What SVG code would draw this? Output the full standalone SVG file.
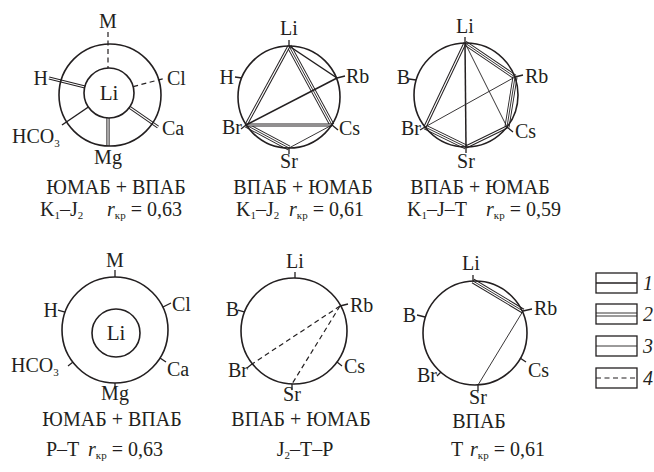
<svg xmlns="http://www.w3.org/2000/svg" xmlns:xlink="http://www.w3.org/1999/xlink" width="654" height="472" viewBox="0 0 654 472">
<style>
.t{font-family:"Liberation Serif","Times New Roman",serif;font-size:20px;fill:#231f20}
.m{text-anchor:middle}
.e{text-anchor:end}
.i{font-style:italic}
.s{font-size:11px}
.c{fill:none;stroke:#231f20;stroke-width:1.6}
.k{stroke:#231f20;stroke-width:1.3;fill:none}
.w1{stroke:#231f20;stroke-width:1.5}
.w0{stroke:#231f20;stroke-width:0.9}
.dA{stroke:#231f20;stroke-width:3.2}
.dB{stroke:#fff;stroke-width:1.2}
.tA{stroke:#231f20;stroke-width:5}
.tB{stroke:#fff;stroke-width:3.2}
.tC{stroke:#231f20;stroke-width:0.9}
.da{stroke:#231f20;stroke-width:1.2;stroke-dasharray:5 3.5}
</style>
<defs>
<line id="a1H" x1="49" y1="78" x2="85" y2="87"/>
<line id="a1Ca" x1="129.5" y1="107.3" x2="158" y2="127"/>
<line id="a1Mg" x1="108" y1="118" x2="108" y2="146"/>
<line id="a2LiBr" x1="289" y1="46" x2="246" y2="125"/>
<line id="a2LiCs" x1="289" y1="46" x2="332" y2="125"/>
<line id="a2BrCs" x1="246" y1="125" x2="332" y2="125"/>
<line id="a2BrSr" x1="246" y1="125" x2="289" y2="148"/>
<line id="a3LiBr" x1="465" y1="43" x2="425" y2="127"/>
<line id="a3LiRb" x1="465" y1="43" x2="515" y2="77"/>
<line id="a3RbCs" x1="515" y1="77" x2="507" y2="127"/>
<line id="a3BrSr" x1="425" y1="127" x2="466" y2="147"/>
<line id="a3SrCs" x1="466" y1="147" x2="507" y2="127"/>
<line id="a6LiRb" x1="473" y1="281" x2="523" y2="311"/>
</defs>

<!-- ===== Diagram 1 ===== -->
<g id="diagram1">
<g id="d1-connectors">
<line class="da" x1="108" y1="32" x2="108" y2="68"/>
<line class="da" x1="133.2" y1="86.6" x2="166" y2="78"/>
<use xlink:href="#a1H" class="dA"/><use xlink:href="#a1H" class="dB"/>
<use xlink:href="#a1Ca" class="dA"/><use xlink:href="#a1Ca" class="dB"/>
<use xlink:href="#a1Mg" class="dA"/><use xlink:href="#a1Mg" class="dB"/>
<line class="w1" x1="88.4" y1="107" x2="62" y2="125"/>
</g>
<g id="d1-ring"><circle class="c" cx="110" cy="95" r="51"/></g>
<g id="d1-Li"><circle class="c" cx="109" cy="93" r="25"/><text class="t m" x="109" y="100" style="font-size:21px">Li</text></g>
<g id="d1-M"><text class="t m" x="108" y="28">M</text></g>
<g id="d1-H"><text class="t e" x="48" y="85">H</text></g>
<g id="d1-Cl"><text class="t" x="167" y="85">Cl</text></g>
<g id="d1-Ca"><text class="t" x="162" y="135">Ca</text></g>
<g id="d1-HCO3"><text class="t" x="12" y="143">HCO<tspan class="s" dy="4">3</tspan></text></g>
<g id="d1-Mg"><text class="t m" x="108" y="164">Mg</text></g>
<g id="d1-caption">
<text class="t m" x="116" y="194">ЮМАБ + ВПАБ</text>
<text class="t" x="40" y="216">K<tspan class="s" dy="3">1</tspan><tspan dy="-3">–J</tspan><tspan class="s" dy="3">2</tspan><tspan class="i" x="107" dy="-3">r</tspan><tspan class="s" dy="3">кр</tspan><tspan dy="-3"> = 0,63</tspan></text>
</g>
</g>

<!-- ===== Diagram 2 ===== -->
<g id="diagram2">
<g id="d2-connectors">
<use xlink:href="#a2LiCs" class="tA"/><use xlink:href="#a2LiCs" class="tB"/><use xlink:href="#a2LiCs" class="tC"/>
<use xlink:href="#a2BrSr" class="tA"/><use xlink:href="#a2BrSr" class="tB"/><use xlink:href="#a2BrSr" class="tC"/>
<use xlink:href="#a2LiBr" class="dA"/><use xlink:href="#a2LiBr" class="dB"/>
<use xlink:href="#a2BrCs" class="dA"/><use xlink:href="#a2BrCs" class="dB"/>
<line class="w1" x1="289" y1="46" x2="337" y2="78"/>
<line class="w1" x1="246" y1="125" x2="337" y2="78"/>
<line class="w0" x1="289" y1="148" x2="332" y2="125"/>
</g>
<g id="d2-ring"><circle class="c" cx="289" cy="97" r="51"/></g>
<g id="d2-Li"><line class="k" x1="289" y1="46" x2="289" y2="40"/><text class="t m" x="289" y="35">Li</text></g>
<g id="d2-H"><line class="k" x1="235" y1="77" x2="242" y2="78"/><text class="t e" x="234" y="84">H</text></g>
<g id="d2-Rb"><line class="k" x1="337" y1="78" x2="345" y2="76"/><text class="t" x="346" y="83">Rb</text></g>
<g id="d2-Br"><line class="k" x1="246" y1="125" x2="241" y2="129"/><text class="t e" x="242" y="134">Br</text></g>
<g id="d2-Cs"><line class="k" x1="332" y1="125" x2="338" y2="130"/><text class="t" x="339" y="135">Cs</text></g>
<g id="d2-Sr"><line class="k" x1="289" y1="148" x2="289" y2="154"/><text class="t m" x="289" y="168">Sr</text></g>
<g id="d2-caption">
<text class="t m" x="303" y="194">ВПАБ + ЮМАБ</text>
<text class="t" x="236" y="216">K<tspan class="s" dy="3">1</tspan><tspan dy="-3">–J</tspan><tspan class="s" dy="3">2</tspan><tspan class="i" x="289" dy="-3">r</tspan><tspan class="s" dy="3">кр</tspan><tspan dy="-3"> = 0,61</tspan></text>
</g>
</g>

<!-- ===== Diagram 3 ===== -->
<g id="diagram3">
<g id="d3-connectors">
<use xlink:href="#a3LiRb" class="tA"/><use xlink:href="#a3LiRb" class="tB"/><use xlink:href="#a3LiRb" class="tC"/>
<use xlink:href="#a3RbCs" class="tA"/><use xlink:href="#a3RbCs" class="tB"/><use xlink:href="#a3RbCs" class="tC"/>
<use xlink:href="#a3BrSr" class="tA"/><use xlink:href="#a3BrSr" class="tB"/><use xlink:href="#a3BrSr" class="tC"/>
<use xlink:href="#a3LiBr" class="dA"/><use xlink:href="#a3LiBr" class="dB"/>
<use xlink:href="#a3SrCs" class="dA"/><use xlink:href="#a3SrCs" class="dB"/>
<line class="w1" x1="465" y1="43" x2="466" y2="147"/>
<line class="w0" x1="465" y1="43" x2="507" y2="127"/>
<line class="w0" x1="425" y1="127" x2="515" y2="77"/>
</g>
<g id="d3-ring"><circle class="c" cx="466" cy="95" r="52"/></g>
<g id="d3-Li"><line class="k" x1="465" y1="43" x2="465" y2="37"/><text class="t m" x="465" y="33">Li</text></g>
<g id="d3-B"><line class="k" x1="409" y1="79" x2="416" y2="80"/><text class="t e" x="410" y="84">B</text></g>
<g id="d3-Rb"><line class="k" x1="515" y1="77" x2="523" y2="75"/><text class="t" x="525" y="83">Rb</text></g>
<g id="d3-Br"><line class="k" x1="425" y1="127" x2="420" y2="130"/><text class="t e" x="421" y="135">Br</text></g>
<g id="d3-Cs"><line class="k" x1="507" y1="127" x2="513" y2="132"/><text class="t" x="515" y="138">Cs</text></g>
<g id="d3-Sr"><line class="k" x1="466" y1="147" x2="466" y2="153"/><text class="t m" x="466" y="168">Sr</text></g>
<g id="d3-caption">
<text class="t m" x="480" y="194">ВПАБ + ЮМАБ</text>
<text class="t" x="407" y="216">K<tspan class="s" dy="3">1</tspan><tspan dy="-3">–J–T</tspan><tspan class="i" x="486">r</tspan><tspan class="s" dy="3">кр</tspan><tspan dy="-3"> = 0,59</tspan></text>
</g>
</g>

<!-- ===== Diagram 4 ===== -->
<g id="diagram4">
<g id="d4-ring"><circle class="c" cx="115" cy="330" r="53"/></g>
<g id="d4-Li"><circle class="c" cx="116" cy="333" r="24"/><text class="t m" x="116" y="340" style="font-size:21px">Li</text></g>
<g id="d4-M"><line class="k" x1="115" y1="277" x2="115" y2="270"/><text class="t m" x="115" y="267">M</text></g>
<g id="d4-H"><line class="k" x1="58" y1="310" x2="65" y2="312"/><text class="t e" x="58" y="317">H</text></g>
<g id="d4-Cl"><line class="k" x1="163" y1="307" x2="171" y2="303"/><text class="t" x="172" y="311">Cl</text></g>
<g id="d4-HCO3"><line class="k" x1="73" y1="362" x2="68" y2="366"/><text class="t" x="11" y="372">HCO<tspan class="s" dy="4">3</tspan></text></g>
<g id="d4-Ca"><line class="k" x1="160" y1="358" x2="166" y2="362"/><text class="t" x="167" y="376">Ca</text></g>
<g id="d4-Mg"><line class="k" x1="115" y1="383" x2="115" y2="389"/><text class="t m" x="115" y="400">Mg</text></g>
<g id="d4-caption">
<text class="t m" x="112" y="426">ЮМАБ + ВПАБ</text>
<text class="t" x="46" y="456">P–T<tspan class="i" x="88">r</tspan><tspan class="s" dy="3">кр</tspan><tspan dy="-3"> = 0,63</tspan></text>
</g>
</g>

<!-- ===== Diagram 5 ===== -->
<g id="diagram5">
<g id="d5-connectors">
<line class="da" x1="340" y1="306" x2="252" y2="364"/>
<line class="da" x1="340" y1="306" x2="292" y2="384"/>
</g>
<g id="d5-ring"><circle class="c" cx="294" cy="331" r="53"/></g>
<g id="d5-Li"><line class="k" x1="295" y1="278" x2="295" y2="272"/><text class="t m" x="295" y="268">Li</text></g>
<g id="d5-B"><line class="k" x1="238" y1="310" x2="245" y2="312"/><text class="t e" x="239" y="316">B</text></g>
<g id="d5-Rb"><line class="k" x1="340" y1="306" x2="348" y2="304"/><text class="t" x="350" y="312">Rb</text></g>
<g id="d5-Br"><line class="k" x1="252" y1="364" x2="247" y2="368"/><text class="t e" x="248" y="377">Br</text></g>
<g id="d5-Cs"><line class="k" x1="337" y1="362" x2="342" y2="366"/><text class="t" x="344" y="373">Cs</text></g>
<g id="d5-Sr"><line class="k" x1="292" y1="384" x2="292" y2="390"/><text class="t m" x="292" y="401">Sr</text></g>
<g id="d5-caption">
<text class="t m" x="301" y="426">ВПАБ + ЮМАБ</text>
<text class="t m" x="305" y="456">J<tspan class="s" dy="3">2</tspan><tspan dy="-3">–T–P</tspan></text>
</g>
</g>

<!-- ===== Diagram 6 ===== -->
<g id="diagram6">
<g id="d6-connectors">
<use xlink:href="#a6LiRb" class="tA"/><use xlink:href="#a6LiRb" class="tB"/><use xlink:href="#a6LiRb" class="tC"/>
<line class="w0" x1="523" y1="311" x2="478" y2="385"/>
</g>
<g id="d6-ring"><circle class="c" cx="475" cy="333" r="52"/></g>
<g id="d6-Li"><line class="k" x1="473" y1="281" x2="473" y2="275"/><text class="t m" x="471" y="270">Li</text></g>
<g id="d6-B"><line class="k" x1="417" y1="315" x2="425" y2="317"/><text class="t e" x="416" y="322">B</text></g>
<g id="d6-Rb"><line class="k" x1="523" y1="311" x2="532" y2="309"/><text class="t" x="534" y="315">Rb</text></g>
<g id="d6-Br"><line class="k" x1="441" y1="372" x2="437" y2="376"/><text class="t e" x="437" y="382">Br</text></g>
<g id="d6-Cs"><line class="k" x1="520" y1="358" x2="526" y2="362"/><text class="t" x="528" y="377">Cs</text></g>
<g id="d6-Sr"><line class="k" x1="478" y1="385" x2="478" y2="391"/><text class="t m" x="478" y="404">Sr</text></g>
<g id="d6-caption">
<text class="t m" x="479" y="428">ВПАБ</text>
<text class="t" x="451" y="456">T<tspan class="i" x="470">r</tspan><tspan class="s" dy="3">кр</tspan><tspan dy="-3"> = 0,61</tspan></text>
</g>
</g>

<!-- ===== Legend ===== -->
<g id="legend">
<g id="leg1"><rect class="k" x="596" y="273" width="41" height="20"/><line class="w1" x1="596" y1="283" x2="637" y2="283"/><text class="t i" x="643" y="290">1</text></g>
<g id="leg2"><rect class="k" x="596" y="304" width="41" height="20"/><line class="w0" x1="596" y1="313" x2="637" y2="313"/><line class="w0" x1="596" y1="316" x2="637" y2="316"/><text class="t i" x="643" y="321">2</text></g>
<g id="leg3"><rect class="k" x="596" y="336" width="41" height="20"/><line class="w0" x1="596" y1="346" x2="637" y2="346"/><text class="t i" x="643" y="353">3</text></g>
<g id="leg4"><rect class="k" x="596" y="368" width="41" height="20"/><line class="da" x1="596" y1="378" x2="637" y2="378"/><text class="t i" x="643" y="385">4</text></g>
</g>
</svg>
